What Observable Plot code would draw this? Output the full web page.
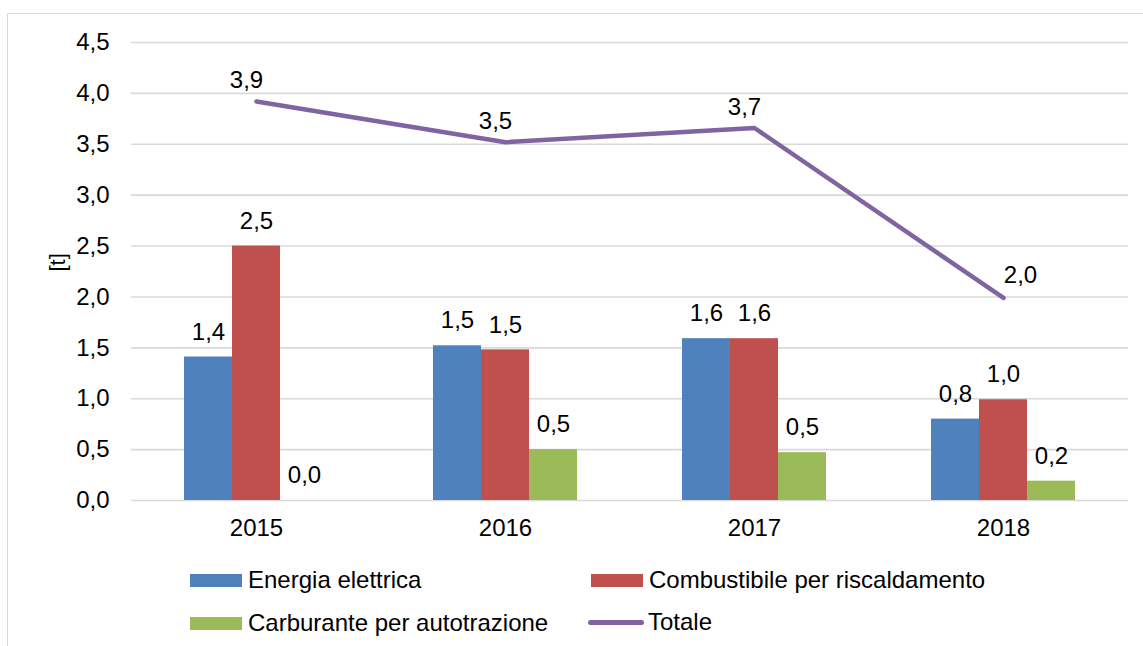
<!DOCTYPE html>
<html><head><meta charset="utf-8">
<script src="https://cdn.jsdelivr.net/npm/d3@7"></script>
<script src="https://cdn.jsdelivr.net/npm/@observablehq/plot@0.6"></script>
<style>
body{margin:0;background:#fff;font-family:"Liberation Sans",Arial,sans-serif;}
#wrap{position:relative;width:1143px;height:646px;overflow:hidden;background:#fff;}
#frame{position:absolute;left:7px;top:13px;width:1145px;height:645px;border:1px solid #d9d9d9;box-sizing:border-box;}
#chart{position:absolute;left:0;top:0;}
.lg{position:absolute;display:flex;align-items:center;height:30px;font-size:24px;color:#000;white-space:nowrap;}
.sw{display:inline-block;width:52px;height:13px;margin-right:6px;}
.ln{display:inline-block;width:56px;height:5px;border-radius:2.5px;margin-right:4px;}
</style>
</head><body>
<div id="wrap"><div id="frame"></div><div id="chart"></div><div id="legend"></div></div>
<script>
const years = ["2015", "2016", "2017", "2018"];
const seriesNames = ["Energia elettrica", "Combustibile per riscaldamento", "Carburante per autotrazione"];
const energia = [1.41, 1.52, 1.59, 0.80];
const combustibile = [2.50, 1.48, 1.59, 0.99];
const carburante = [0.00, 0.50, 0.47, 0.19];
const totale = [3.92, 3.52, 3.66, 1.99];
const totaleName = "Totale";
const barColors = ["#4F81BD", "#C0504D", "#9BBB59"];
const lineColor = "#8064A2";
const yTicks = [0, 0.5, 1, 1.5, 2, 2.5, 3, 3.5, 4, 4.5];

const fmt = v => v.toFixed(1).replace(".", ",");
const seriesValues = [energia, combustibile, carburante];
const barRows = seriesValues.map((vals, i) => years.map((y, j) => ({year: y, value: vals[j], series: seriesNames[i]})));
const totRows = years.map((y, j) => ({year: y, value: totale[j]}));

const W = 1143, H = 560, mL = 131, mR = 15, mT = 42, mB = 60;
const pInner = 0.8074, pOuter = pInner / 2;
const step = (W - mL - mR) / years.length;
const bw = step * (1 - pInner);
const FS = 24;

const marks = [
  Plot.gridY({ticks: yTicks, stroke: "#d9d9d9", strokeOpacity: 1, strokeWidth: 1.6}),
  Plot.axisY({ticks: yTicks, tickFormat: fmt, tickSize: 0, tickPadding: 22, fontSize: FS, label: null}),
  Plot.axisX({tickSize: 0, tickPadding: 18, fontSize: FS, label: null}),
  Plot.text(["[t]"], {frameAnchor: "left", dx: -74, rotate: -90, fontSize: 22, text: d => d})
];
barRows.forEach((rows, i) => {
  marks.push(Plot.barY(rows, {x: "year", y: "value", fill: barColors[i], dx: (i - 1) * bw}));
});
barRows.forEach((rows, i) => {
  marks.push(Plot.text(rows, {x: "year", y: "value", text: d => fmt(d.value), dx: (i - 1) * bw, dy: -25, fontSize: FS, fill: "#000"}));
});
marks.push(Plot.lineY(totRows, {x: "year", y: "value", stroke: lineColor, strokeWidth: 4.5, strokeLinecap: "round", strokeLinejoin: "round"}));
marks.push(Plot.text(totRows.slice(0, -1), {x: "year", y: "value", text: d => fmt(d.value), dx: -10, dy: -21, fontSize: FS, fill: "#000"}));
marks.push(Plot.text(totRows.slice(-1), {x: "year", y: "value", text: d => fmt(d.value), dx: 17, dy: -23, fontSize: FS, fill: "#000"}));

const chart = Plot.plot({
  width: W, height: H,
  marginLeft: mL, marginRight: mR, marginTop: mT, marginBottom: mB,
  style: {fontFamily: '"Liberation Sans", Arial, sans-serif', fontSize: FS + "px", background: "transparent", color: "#000"},
  x: {domain: years, paddingInner: pInner, paddingOuter: pOuter, axis: null},
  y: {domain: [0, 4.5], axis: null},
  marks
});
document.getElementById("chart").appendChild(chart);

const legend = document.getElementById("legend");
const items = [
  {name: seriesNames[0], color: barColors[0], type: "bar", left: 190, cy: 580},
  {name: seriesNames[1], color: barColors[1], type: "bar", left: 591, cy: 580},
  {name: seriesNames[2], color: barColors[2], type: "bar", left: 190, cy: 623},
  {name: totaleName, color: lineColor, type: "line", left: 588, cy: 622}
];
items.forEach(it => {
  const d = document.createElement("div");
  d.className = "lg";
  d.style.left = it.left + "px";
  d.style.top = (it.cy - 15) + "px";
  const s = document.createElement("span");
  s.className = it.type === "bar" ? "sw" : "ln";
  s.style.background = it.color;
  d.appendChild(s);
  d.appendChild(document.createTextNode(it.name));
  legend.appendChild(d);
});
</script>
</body></html>
